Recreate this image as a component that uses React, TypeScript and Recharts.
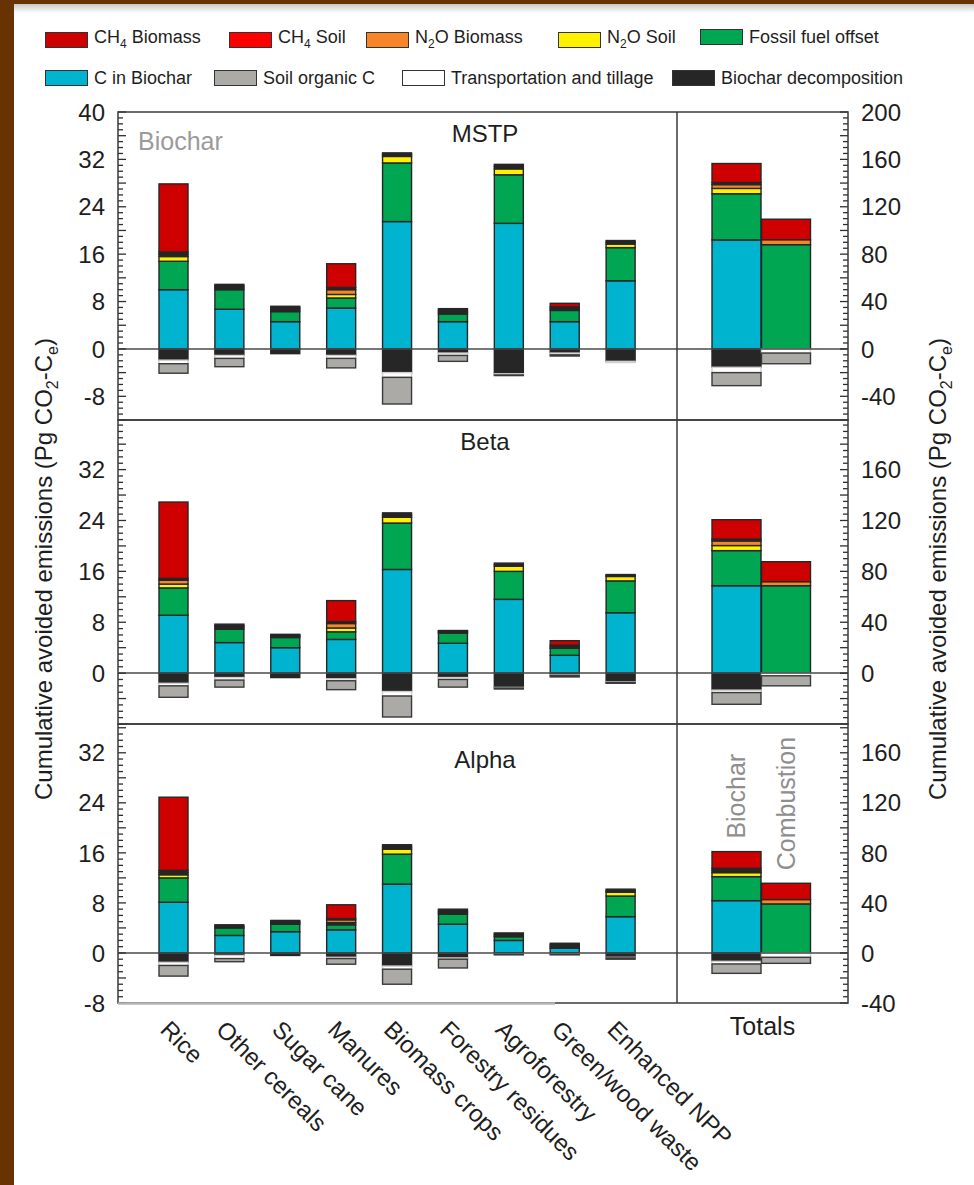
import React from 'react';
import { BarChart, Bar, XAxis, YAxis, ReferenceLine, LabelList } from 'recharts';

const FONT = '"Liberation Sans", Arial, Helvetica, sans-serif';
const DARK = '#262626';
const INK = '#1e1e1e';

const categories = [
  'Rice',
  'Other cereals',
  'Sugar cane',
  'Manures',
  'Biomass crops',
  'Forestry residues',
  'Agroforestry',
  'Green/wood waste',
  'Enhanced NPP',
];
const totalsNames = ['Biochar', 'Combustion'];

// MSTP scenario (Pg CO2-Ce), totals on the right-hand scale
const mstpCBiochar = [10.0, 6.7, 4.6, 6.9, 21.5, 4.6, 21.2, 4.6, 11.5];
const mstpFossil = [4.8, 3.3, 1.7, 1.7, 9.9, 1.3, 8.2, 1.9, 5.6];
const mstpN2OSoil = [0.8, 0.3, 0.3, 0.6, 1.1, 0.3, 1.0, 0, 0.6];
const mstpN2OBiomass = [0.38, 0.3, 0.3, 0.8, 0.3, 0.3, 0.38, 0.3, 0.3];
const mstpCH4Soil = [0.38, 0.3, 0.3, 0.38, 0.3, 0.3, 0.38, 0.3, 0.3];
const mstpCH4Biomass = [11.5, 0, 0, 4.0, 0, 0, 0, 0.6, 0];
const mstpDecomp = [-1.9, -1.1, -0.8, -1.1, -4.0, -0.7, -4.2, -0.7, -2.1];
const mstpTransport = [-0.6, -0.5, 0, -0.5, -0.8, -0.4, -0.2, -0.3, -0.2];
const mstpSOC = [-1.6, -1.4, 0, -1.6, -4.5, -1.0, -0.1, -0.2, 0];

const mstpTotCBiochar = [92, 0];
const mstpTotFossil = [39, 88];
const mstpTotN2OSoil = [4.5, 0];
const mstpTotN2OBiomass = [3.2, 4.2];
const mstpTotCH4Soil = [1.8, 0];
const mstpTotCH4Biomass = [16, 17.3];
const mstpTotDecomp = [-15.5, 0];
const mstpTotTransport = [-4.5, -3.5];
const mstpTotSOC = [-11, -9];

// Beta scenario
const betaCBiochar = [9.1, 4.8, 4.0, 5.3, 16.3, 4.7, 11.6, 2.8, 9.5];
const betaFossil = [4.3, 2.1, 1.6, 1.2, 7.3, 1.6, 4.4, 1.1, 5.0];
const betaN2OSoil = [0.6, 0.3, 0.2, 0.6, 0.9, 0.15, 0.8, 0, 0.7];
const betaN2OBiomass = [0.6, 0.25, 0.15, 0.7, 0.35, 0.15, 0.25, 0.25, 0.15];
const betaCH4Soil = [0.3, 0.25, 0.15, 0.3, 0.35, 0.1, 0.25, 0.25, 0.15];
const betaCH4Biomass = [12.0, 0, 0, 3.3, 0, 0, 0, 0.7, 0];
const betaDecomp = [-1.6, -0.7, -0.7, -0.9, -2.9, -0.7, -2.25, -0.3, -1.4];
const betaTransport = [-0.4, -0.4, 0, -0.3, -0.7, -0.3, -0.1, -0.1, -0.1];
const betaSOC = [-1.8, -1.1, 0, -1.4, -3.3, -1.2, -0.15, -0.2, -0.1];

const betaTotCBiochar = [68.7, 0];
const betaTotFossil = [27.6, 68.7];
const betaTotN2OSoil = [4, 0];
const betaTotN2OBiomass = [3.6, 3.2];
const betaTotCH4Soil = [1.5, 0];
const betaTotCH4Biomass = [15.2, 15.7];
const betaTotDecomp = [-13.4, 0];
const betaTotTransport = [-1.9, -2.1];
const betaTotSOC = [-9.2, -7.9];

// Alpha scenario
const alphaCBiochar = [8.1, 2.8, 3.4, 3.7, 11.0, 4.6, 2.0, 0.75, 5.8];
const alphaFossil = [3.9, 1.2, 1.2, 0.8, 4.8, 1.6, 0.6, 0, 3.3];
const alphaN2OSoil = [0.5, 0, 0.2, 0.35, 0.8, 0.27, 0.2, 0.27, 0.6];
const alphaN2OBiomass = [0.35, 0.25, 0.2, 0.45, 0.35, 0.27, 0.2, 0.27, 0.25];
const alphaCH4Soil = [0.35, 0.25, 0.2, 0.2, 0.35, 0.26, 0.2, 0.26, 0.25];
const alphaCH4Biomass = [11.7, 0, 0, 2.2, 0, 0, 0, 0, 0];
const alphaDecomp = [-1.5, -0.4, -0.4, -0.7, -2.1, -0.8, -0.15, -0.15, -0.7];
const alphaTransport = [-0.5, -0.5, 0, -0.2, -0.5, -0.2, -0.1, -0.1, -0.1];
const alphaSOC = [-1.7, -0.5, 0, -0.9, -2.4, -1.4, -0.05, -0.05, -0.2];

const alphaTotCBiochar = [41.8, 0];
const alphaTotFossil = [19.2, 39.2];
const alphaTotN2OSoil = [3.2, 0];
const alphaTotN2OBiomass = [1.7, 3.5];
const alphaTotCH4Soil = [1.8, 0];
const alphaTotCH4Biomass = [13.3, 13];
const alphaTotDecomp = [-6.7, 0];
const alphaTotTransport = [-2.1, -3.5];
const alphaTotSOC = [-7.5, -4.8];

// tick labels
const mstpLeftLabels = [-8, 0, 8, 16, 24, 32, 40];
const mstpRightLabels = [-40, 0, 40, 80, 120, 160, 200];
const betaLeftLabels = [0, 8, 16, 24, 32];
const betaRightLabels = [0, 40, 80, 120, 160];
const alphaLeftLabels = [-8, 0, 8, 16, 24, 32];
const alphaRightLabels = [-40, 0, 40, 80, 120, 160];

const series = [
  { key: 'cBiochar', name: 'C in Biochar', color: '#00b4cf', stroke: DARK, pos: true },
  { key: 'fossil', name: 'Fossil fuel offset', color: '#00a651', stroke: DARK, pos: true },
  { key: 'n2oSoil', name: 'N2O Soil', color: '#fff200', stroke: DARK, pos: true },
  { key: 'n2oBiomass', name: 'N2O Biomass', color: '#f7862b', stroke: DARK, pos: true },
  { key: 'ch4Soil', name: 'CH4 Soil', color: '#ff0000', stroke: DARK, pos: true },
  { key: 'ch4Biomass', name: 'CH4 Biomass', color: '#cf0000', stroke: DARK, pos: true },
  { key: 'decomp', name: 'Biochar decomposition', color: '#262626', stroke: DARK, pos: false },
  { key: 'transport', name: 'Transportation and tillage', color: '#ffffff', stroke: '#cfcfcf', pos: false },
  { key: 'soc', name: 'Soil organic C', color: '#abaaa6', stroke: '#3a3a3a', pos: false },
];

const legendRow1 = ['ch4Biomass', 'ch4Soil', 'n2oBiomass', 'n2oSoil', 'fossil'];
const legendRow2 = ['cBiochar', 'soc', 'transport', 'decomp'];
const legendRow1X = [45, 229, 366, 558, 700];
const legendRow2X = [45, 214, 402, 672];

function buildRows(names: string[], cols: Record<string, number[]>) {
  return names.map((name, i) => {
    const row: Record<string, any> = { name };
    Object.keys(cols).forEach((k) => {
      row[k] = cols[k][i];
    });
    return row;
  });
}

const mstpData = buildRows(categories, {
  cBiochar: mstpCBiochar, fossil: mstpFossil, n2oSoil: mstpN2OSoil, n2oBiomass: mstpN2OBiomass,
  ch4Soil: mstpCH4Soil, ch4Biomass: mstpCH4Biomass, decomp: mstpDecomp, transport: mstpTransport, soc: mstpSOC,
});
const mstpTotals = buildRows(totalsNames, {
  cBiochar: mstpTotCBiochar, fossil: mstpTotFossil, n2oSoil: mstpTotN2OSoil, n2oBiomass: mstpTotN2OBiomass,
  ch4Soil: mstpTotCH4Soil, ch4Biomass: mstpTotCH4Biomass, decomp: mstpTotDecomp, transport: mstpTotTransport, soc: mstpTotSOC,
});
const betaData = buildRows(categories, {
  cBiochar: betaCBiochar, fossil: betaFossil, n2oSoil: betaN2OSoil, n2oBiomass: betaN2OBiomass,
  ch4Soil: betaCH4Soil, ch4Biomass: betaCH4Biomass, decomp: betaDecomp, transport: betaTransport, soc: betaSOC,
});
const betaTotals = buildRows(totalsNames, {
  cBiochar: betaTotCBiochar, fossil: betaTotFossil, n2oSoil: betaTotN2OSoil, n2oBiomass: betaTotN2OBiomass,
  ch4Soil: betaTotCH4Soil, ch4Biomass: betaTotCH4Biomass, decomp: betaTotDecomp, transport: betaTotTransport, soc: betaTotSOC,
});
const alphaData = buildRows(categories, {
  cBiochar: alphaCBiochar, fossil: alphaFossil, n2oSoil: alphaN2OSoil, n2oBiomass: alphaN2OBiomass,
  ch4Soil: alphaCH4Soil, ch4Biomass: alphaCH4Biomass, decomp: alphaDecomp, transport: alphaTransport, soc: alphaSOC,
});
const alphaTotals = buildRows(totalsNames, {
  cBiochar: alphaTotCBiochar, fossil: alphaTotFossil, n2oSoil: alphaTotN2OSoil, n2oBiomass: alphaTotN2OBiomass,
  ch4Soil: alphaTotCH4Soil, ch4Biomass: alphaTotCH4Biomass, decomp: alphaTotDecomp, transport: alphaTotTransport, soc: alphaTotSOC,
});

function range(a: number, b: number, step: number) {
  const out: number[] = [];
  for (let v = a; v <= b + 1e-9; v += step) out.push(v);
  return out;
}

// thin stacked slivers read as black outlines in the original
function makeShape(fill: string, stroke: string, darkenThin: boolean) {
  return (props: any) => {
    const { x, y, width, height } = props;
    if (!height || !width) return <g />;
    const h = Math.abs(height);
    const top = height < 0 ? y + height : y;
    const f = darkenThin && h < 2.4 ? DARK : fill;
    return <rect x={x} y={top} width={width} height={h} fill={f} stroke={stroke} strokeWidth={1.4} />;
  };
}

function AxisTick(props: any) {
  const { x, y, payload, side, labels, major } = props;
  const v = payload.value;
  const len = v % major === 0 ? 8 : 5;
  const dir = side === 'left' ? 1 : -1;
  return (
    <g>
      <line x1={x} x2={x + dir * len} y1={y} y2={y} stroke="#2e2e2e" strokeWidth={1.3} />
      {labels.includes(v) && (
        <text
          x={x - dir * 13}
          y={y}
          dy="0.36em"
          textAnchor={side === 'left' ? 'end' : 'start'}
          fontSize={24}
          fontFamily={FONT}
          fill={INK}
        >
          {v}
        </text>
      )}
    </g>
  );
}

function CategoryTick(props: any) {
  const { x, y, payload } = props;
  const ax = x - 15;
  const ay = y + 28;
  return (
    <text x={ax} y={ay} transform={`rotate(45 ${ax} ${ay})`} fontSize={24} fontFamily={FONT} fill={INK}>
      {payload.value}
    </text>
  );
}

function TotalsLabel(props: any) {
  const { x, y, width, value } = props;
  const tx = Number(x) + Number(width) / 2 + 9;
  const ty = Number(y) - 13;
  return (
    <text x={tx} y={ty} transform={`rotate(-90 ${tx} ${ty})`} fontSize={25} fontFamily={FONT} fill="#8e8e8e">
      {value}
    </text>
  );
}

function renderBars(withLabels: boolean) {
  return series.map((s) => (
    <Bar
      key={s.key}
      dataKey={s.key}
      stackId="s"
      fill={s.color}
      isAnimationActive={false}
      shape={makeShape(s.color, s.stroke, s.pos)}
    >
      {withLabels && s.key === 'ch4Biomass' ? <LabelList dataKey="name" content={TotalsLabel} /> : null}
    </Bar>
  ));
}

const PLOT_LEFT = 118;
const DIVIDER = 677;
const PLOT_RIGHT = 848;
const M = 14;

interface PanelProps {
  top: number;
  height: number;
  data: any[];
  totals: any[];
  leftDomain: [number, number];
  rightDomain: [number, number];
  leftLabels: number[];
  rightLabels: number[];
  showCategories?: boolean;
}

function Panel({ top, height, data, totals, leftDomain, rightDomain, leftLabels, rightLabels, showCategories }: PanelProps) {
  const xAxisH = showCategories ? 180 : 0;
  const chartH = M + height + (showCategories ? xAxisH : M);
  const leftTicks = range(leftDomain[0], Math.floor(leftDomain[1]), 1);
  const rightTicks = range(rightDomain[0], Math.floor(rightDomain[1] / 5) * 5, 5);
  return (
    <>
      <div style={{ position: 'absolute', left: PLOT_LEFT - 50, top: top - M }}>
        <BarChart
          width={50 + DIVIDER - PLOT_LEFT}
          height={chartH}
          data={data}
          margin={{ top: M, right: 0, bottom: showCategories ? 0 : M, left: 0 }}
          stackOffset="sign"
          barSize={29}
        >
          <XAxis
            dataKey="name"
            hide={!showCategories}
            height={xAxisH || undefined}
            padding={{ left: 28, right: 28 }}
            axisLine={false}
            tickLine={false}
            tickSize={0}
            tickMargin={0}
            interval={0}
            tick={<CategoryTick />}
          />
          <YAxis
            domain={leftDomain}
            ticks={leftTicks}
            interval={0}
            width={50}
            axisLine={false}
            tickLine={false}
            tickSize={0}
            tickMargin={0}
            allowDataOverflow
            tick={(p: any) => <AxisTick {...p} side="left" labels={leftLabels} major={4} />}
          />
          <ReferenceLine y={0} stroke="#4a4a4a" strokeWidth={1.5} />
          {renderBars(false)}
        </BarChart>
      </div>
      <div style={{ position: 'absolute', left: DIVIDER, top: top - M }}>
        <BarChart
          width={PLOT_RIGHT - DIVIDER + 70}
          height={2 * M + height}
          data={totals}
          margin={{ top: M, right: 0, bottom: M, left: 0 }}
          stackOffset="sign"
          barSize={49}
        >
          <XAxis dataKey="name" hide padding={{ left: 35, right: 37 }} />
          <YAxis
            orientation="right"
            domain={rightDomain}
            ticks={rightTicks}
            interval={0}
            width={70}
            axisLine={false}
            tickLine={false}
            tickSize={0}
            tickMargin={0}
            allowDataOverflow
            tick={(p: any) => <AxisTick {...p} side="right" labels={rightLabels} major={20} />}
          />
          <ReferenceLine y={0} stroke="#4a4a4a" strokeWidth={1.5} />
          {renderBars(!!showCategories)}
        </BarChart>
      </div>
    </>
  );
}

function withSubscripts(name: string) {
  const parts = name.split(/(\d)/);
  return parts.map((p, i) => (/^\d$/.test(p) ? <sub key={i} style={{ fontSize: 12 }}>{p}</sub> : <span key={i}>{p}</span>));
}

function LegendRow({ keys, xs, top }: { keys: string[]; xs: number[]; top: number }) {
  return (
    <>
      {keys.map((k, i) => {
        const s = series.find((d) => d.key === k)!;
        return (
          <div
            key={k}
            style={{ position: 'absolute', left: xs[i], top, display: 'flex', alignItems: 'center', gap: 6, fontSize: 18, color: INK, whiteSpace: 'nowrap', lineHeight: '16px' }}
          >
            <div style={{ width: 43, height: 16, background: s.color, border: '1.5px solid #333', boxSizing: 'border-box' }} />
            <span>{withSubscripts(s.name)}</span>
          </div>
        );
      })}
    </>
  );
}

const rows = [
  { top: 112, height: 308 },
  { top: 420, height: 304 },
  { top: 724, height: 279 },
];

export default function App() {
  const yTitle = (
    <>
      Cumulative avoided emissions (Pg CO
      <tspan dy={6} fontSize={16}>2</tspan>
      <tspan dy={-6}>-C</tspan>
      <tspan dy={6} fontSize={16}>e</tspan>
      <tspan dy={-6}>)</tspan>
    </>
  );
  return (
    <div style={{ position: 'absolute', left: 0, top: 0, width: 974, height: 1185, background: '#683300', overflow: 'hidden', fontFamily: FONT }}>
      <style>{'.recharts-surface{overflow:visible}'}</style>
      <div style={{ position: 'absolute', left: 14, top: 4, right: 0, bottom: 0, background: '#ffffff' }} />
      <div style={{ position: 'absolute', left: 14, top: 4, right: 0, height: 9, background: 'linear-gradient(rgba(0,0,0,0.22), rgba(0,0,0,0))' }} />

      <LegendRow keys={legendRow1} xs={legendRow1X} top={29} />
      <LegendRow keys={legendRow2} xs={legendRow2X} top={70} />

      <Panel
        top={rows[0].top}
        height={rows[0].height}
        data={mstpData}
        totals={mstpTotals}
        leftDomain={[-12, 40]}
        rightDomain={[-60, 200]}
        leftLabels={mstpLeftLabels}
        rightLabels={mstpRightLabels}
      />
      <Panel
        top={rows[1].top}
        height={rows[1].height}
        data={betaData}
        totals={betaTotals}
        leftDomain={[-8, 39.8]}
        rightDomain={[-40, 199]}
        leftLabels={betaLeftLabels}
        rightLabels={betaRightLabels}
      />
      <Panel
        top={rows[2].top}
        height={rows[2].height}
        data={alphaData}
        totals={alphaTotals}
        leftDomain={[-8, 36.6]}
        rightDomain={[-40, 183]}
        leftLabels={alphaLeftLabels}
        rightLabels={alphaRightLabels}
        showCategories
      />

      <div style={{ position: 'absolute', left: DIVIDER, width: PLOT_RIGHT - DIVIDER, top: 1012, textAlign: 'center', fontSize: 25, color: INK }}>
        Totals
      </div>

      <svg width={974} height={1185} style={{ position: 'absolute', left: 0, top: 0, pointerEvents: 'none' }}>
        {rows.map((r, i) => (
          <rect key={i} x={PLOT_LEFT} y={r.top} width={PLOT_RIGHT - PLOT_LEFT} height={r.height} fill="none" stroke="#3a3a3a" strokeWidth={1.5} />
        ))}
        <line x1={PLOT_LEFT} x2={555} y1={1003.5} y2={1003.5} stroke="#b5b5b5" strokeWidth={2.5} />
        <line x1={DIVIDER} x2={DIVIDER} y1={rows[0].top} y2={1003} stroke="#3a3a3a" strokeWidth={1.5} />

        <text x={138} y={150} fontSize={25} fontFamily={FONT} fill="#9b9b9b">Biochar</text>
        <text x={485} y={142} fontSize={24} fontFamily={FONT} fill={INK} textAnchor="middle">MSTP</text>
        <text x={485} y={450} fontSize={24} fontFamily={FONT} fill={INK} textAnchor="middle">Beta</text>
        <text x={485} y={768} fontSize={24} fontFamily={FONT} fill={INK} textAnchor="middle">Alpha</text>

        <text transform="translate(52 569) rotate(-90)" textAnchor="middle" fontSize={24} fontFamily={FONT} fill={INK}>
          {yTitle}
        </text>
        <text transform="translate(946 569) rotate(-90)" textAnchor="middle" fontSize={24} fontFamily={FONT} fill={INK}>
          {yTitle}
        </text>
      </svg>
    </div>
  );
}
